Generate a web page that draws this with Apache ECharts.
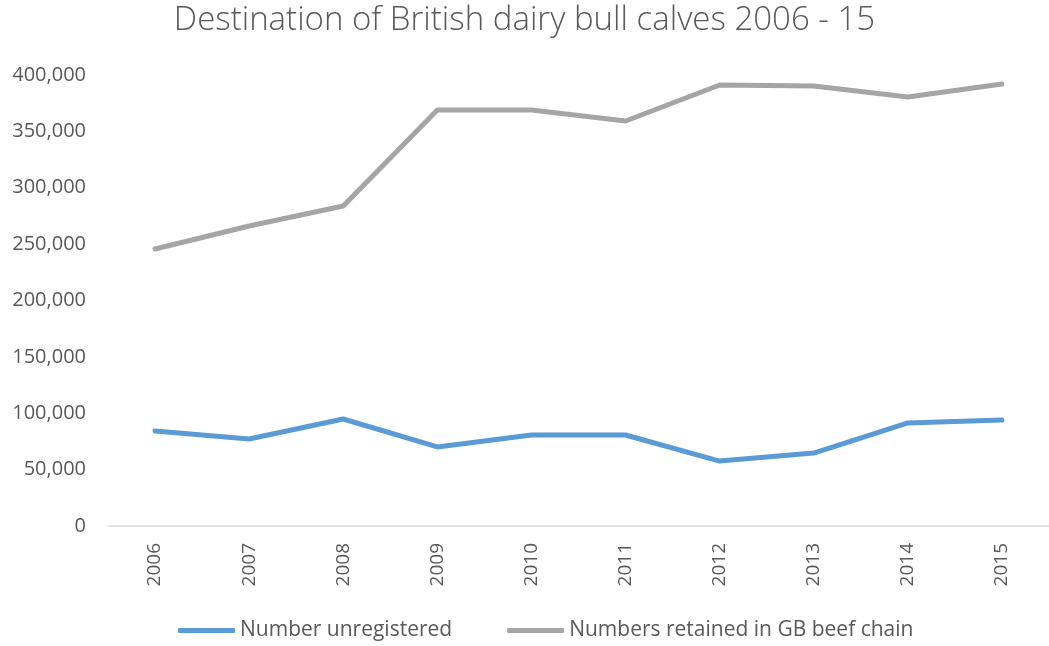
<!DOCTYPE html>
<html><head><meta charset="utf-8">
<script src="https://cdn.jsdelivr.net/npm/echarts@6/dist/echarts.min.js"></script>
<style>html,body{margin:0;padding:0;background:#fff}#c{width:1049px;height:646px}</style>
</head><body><div id="c"></div>
<script>
const years = ['2006','2007','2008','2009','2010','2011','2012','2013','2014','2015'];
const unregistered = [84300, 77200, 94900, 70100, 80700, 80700, 57600, 64700, 91400, 94000];
const retained = [245700, 266100, 283800, 369000, 369000, 359200, 391100, 390200, 380500, 392000];
const chart = echarts.init(document.getElementById('c'));
const font = '"Open Sans", "Liberation Sans", sans-serif';
chart.setOption({
  animation: false,
  title: {text: 'Destination of British dairy bull calves 2006 - 15', left: 'center', top: -1,
    textStyle: {fontFamily: font, fontWeight: 300, fontSize: 33, color: '#595959'}},
  grid: {left: 108, right: 0, top: 75, bottom: 120, containLabel: false},
  legend: {bottom: 0, left: 173, itemGap: 55, itemWidth: 57, itemHeight: 5,
    textStyle: {fontFamily: font, fontSize: 21, color: '#595959'},
    data: [{name: 'Number unregistered', icon: 'roundRect'}, {name: 'Numbers retained in GB beef chain', icon: 'roundRect'}]},
  xAxis: {type: 'category', data: years, boundaryGap: true,
    axisLine: {lineStyle: {color: '#d9d9d9', width: 1.5}}, axisTick: {show: false},
    axisLabel: {rotate: 90, fontFamily: font, fontSize: 19, color: '#595959', margin: 17}},
  yAxis: {type: 'value', min: 0, max: 400000, interval: 50000,
    axisLine: {show: false}, axisTick: {show: false}, splitLine: {show: false},
    axisLabel: {fontFamily: font, fontSize: 20, color: '#595959', margin: 22,
      formatter: v => v.toLocaleString('en-US')}},
  series: [
    {name: 'Number unregistered', type: 'line', data: unregistered, symbol: 'none',
      lineStyle: {width: 5, color: '#5B9BD5', cap: 'round', join: 'round'}, itemStyle: {color: '#5B9BD5'}},
    {name: 'Numbers retained in GB beef chain', type: 'line', data: retained, symbol: 'none',
      lineStyle: {width: 5, color: '#A5A5A5', cap: 'round', join: 'round'}, itemStyle: {color: '#A5A5A5'}}
  ]
});
</script></body></html>
